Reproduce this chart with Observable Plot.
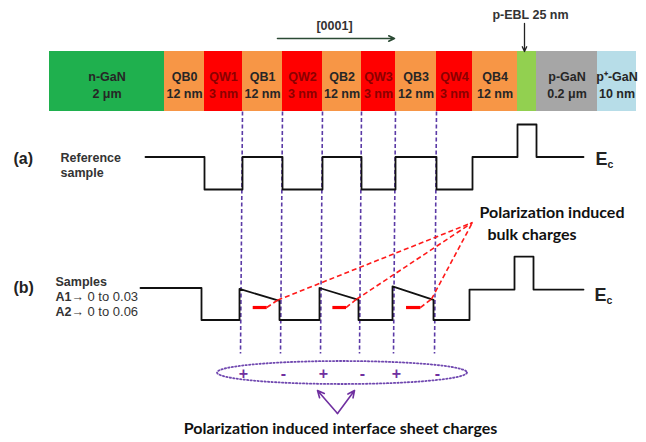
<!DOCTYPE html>
<html><head><meta charset="utf-8">
<script src="https://cdn.jsdelivr.net/npm/d3@7"></script>
<script src="https://cdn.jsdelivr.net/npm/@observablehq/plot@0.6"></script>
<style>body{margin:0;background:#fff}</style>
</head><body><div id="chart"></div>
<script>
// ---- data ----
const layerNames = ["n-GaN","QB0","QW1","QB1","QW2","QB2","QW3","QB3","QW4","QB4","p-EBL","p-GaN","p\u207A-GaN"];
const layerSizes = ["2 \u03BCm","12 nm","3 nm","12 nm","3 nm","12 nm","3 nm","12 nm","3 nm","12 nm","","0.2 \u03BCm","10 nm"];
const layerTypes = ["n","QB","QW","QB","QW","QB","QW","QB","QW","QB","EBL","p","p+"];
const layerEdges = [49,164,204,242,282,322,361,395,436,472,517,536,597,636];
// conduction band level (arbitrary units) per layer, n-GaN ... p-GaN
const ecReference   = [1,1,0,1,0,1,0,1,0,1,2,1];
const ecGradedStart = [1,1,0,0.97,0,1,0,1.05,0,0.95,1.98,0.95];
const ecGradedEnd   = [1,1,0,0.6,0,0.63,0,0.63,0,0.95,1.98,0.95];
const bulkChargeLayers = [3,5,7];
const interfaceEdges = [3,4,5,6,7,8];
const interfaceSigns = ["+","-","+","-","+","-"];
const sampleLines = [["A1\u2192","0 to 0.03"],["A2\u2192","0 to 0.06"]];

// ---- layout ----
const bar = {top: 51, bottom: 111, mid: 83.5};
const panelA = {base: 189, unit: 32.5, start: 145, end: 583, shift: 0};
const panelB = {base: 319.5, unit: 32, start: 140, end: 583, shift: -3};
const bulkApex = {x: 472, y: 222};
const ellipse = {cx: 341.5, cy: 372, rx: 125, ry: 11.5};
const vTip = {x: 337, y: 413};
const vEnds = [{x: 317, y: 390}, {x: 354, y: 390}];
const typeColors = {n:"#1fb04e", QB:"#f79646", QW:"#ff0000", EBL:"#92d050", p:"#a6a6a6", "p+":"#b7dde8"};
const purple = "#7030a0";
const sans = "'Liberation Sans', Arial, sans-serif";
const cal = "Lato, 'Open Sans', sans-serif";

const layers = layerNames.map((name,i)=>({name, size: layerSizes[i], type: layerTypes[i], x1: layerEdges[i], x2: layerEdges[i+1]}));

function band(p, Ls, Le) {
  const pts = [];
  for (let i = 0; i < Ls.length; i++) {
    const xl = i === 0 ? p.start : layerEdges[i] + p.shift;
    const xr = i === Ls.length - 1 ? p.end : layerEdges[i+1] + p.shift;
    pts.push({x: xl, y: p.base - Ls[i]*p.unit});
    pts.push({x: xr, y: p.base - Le[i]*p.unit});
  }
  return pts;
}
const bandA = band(panelA, ecReference, ecReference);
const bandB = band(panelB, ecGradedStart, ecGradedEnd);

const bulkDash = [], bulkLinks = [];
bulkChargeLayers.forEach(i => {
  const xl = layerEdges[i] + panelB.shift, w = layerEdges[i+1] - layerEdges[i];
  const y = panelB.base - 0.39*panelB.unit;
  const a = {x: xl + 0.33*w, y}, b = {x: xl + 0.68*w, y};
  bulkDash.push({x1: a.x, y1: a.y, x2: b.x, y2: b.y});
  const f = 0.95;
  const e = {x: xl + f*w, y: panelB.base - (ecGradedStart[i] + f*(ecGradedEnd[i]-ecGradedStart[i]))*panelB.unit};
  bulkLinks.push({x1: b.x, y1: b.y, x2: e.x, y2: e.y});
  bulkLinks.push({x1: e.x, y1: e.y, x2: bulkApex.x, y2: bulkApex.y});
});

const verticals = interfaceEdges.map(i => ({x1: layerEdges[i], y1: bar.bottom, x2: layerEdges[i]-2, y2: 353}));
const signs = interfaceEdges.map((i,k) => ({x: layerEdges[i] + 1, y: ellipse.cy + 1, s: interfaceSigns[k]}));
const ellipsePts = d3.range(0, 73).map(k => {
  const t = k/72*2*Math.PI;
  return {x: ellipse.cx + ellipse.rx*Math.cos(t), y: ellipse.cy + ellipse.ry*Math.sin(t)};
});

const chart = Plot.plot({
  width: 646, height: 442, margin: 0,
  x: {domain: [0, 646], range: [0, 646], axis: null},
  y: {domain: [0, 442], range: [0, 442], axis: null},
  color: {domain: Object.keys(typeColors), range: Object.values(typeColors)},
  style: {background: "#fff"},
  marks: [
    // layer stack
    Plot.rect(layers, {x1: "x1", x2: "x2", y1: bar.top, y2: bar.bottom, fill: "type"}),
    Plot.text(layers.filter(d => d.type !== "QW" && d.type !== "EBL"), {x: d => (d.x1+d.x2)/2, y: bar.mid, text: d => d.name + "\n" + d.size, fontFamily: sans, fontWeight: "bold", fontSize: 12.5, lineHeight: 1.36, fill: "#262626"}),
    Plot.text(layers.filter(d => d.type === "QW"), {x: d => (d.x1+d.x2)/2, y: bar.mid, text: d => d.name + "\n" + d.size, fontFamily: sans, fontWeight: "bold", fontSize: 12.5, lineHeight: 1.36, fill: "#8b0000"}),
    // [0001] arrow and p-EBL label
    Plot.arrow([{x1: 277, y1: 38, x2: 394, y2: 38}], {x1: "x1", y1: "y1", x2: "x2", y2: "y2", stroke: "#2b4a34", strokeWidth: 1.6, headLength: 6, headAngle: 50}),
    Plot.text([{x: 334, y: 25, t: "[0001]"}], {x: "x", y: "y", text: "t", fontFamily: sans, fontWeight: "bold", fontSize: 12.5, fill: "#333"}),
    Plot.arrow([{x1: 524, y1: 23, x2: 524, y2: 51}], {x1: "x1", y1: "y1", x2: "x2", y2: "y2", stroke: "#222", strokeWidth: 1.3, headLength: 6, headAngle: 50}),
    Plot.text([{x: 530, y: 14, t: "p-EBL 25 nm"}], {x: "x", y: "y", text: "t", fontFamily: sans, fontWeight: "bold", fontSize: 12.5, fill: "#333"}),
    // interface dashed lines
    Plot.link(verticals, {x1: "x1", y1: "y1", x2: "x2", y2: "y2", stroke: "#5b3aa6", strokeWidth: 1.6, strokeDasharray: "4,2.5"}),
    // band edges
    Plot.line(bandA, {x: "x", y: "y", stroke: "#111", strokeWidth: 1.8}),
    Plot.line(bandB, {x: "x", y: "y", stroke: "#111", strokeWidth: 1.8}),
    // bulk charges
    Plot.link(bulkLinks, {x1: "x1", y1: "y1", x2: "x2", y2: "y2", stroke: "#ff1a1a", strokeWidth: 1.6, strokeDasharray: "5,3"}),
    Plot.link(bulkDash, {x1: "x1", y1: "y1", x2: "x2", y2: "y2", stroke: "#ff0000", strokeWidth: 3.2}),
    Plot.text([{x: 479, y: 212, t: "Polarization induced"}, {x: 487, y: 234, t: "bulk charges"}], {x: "x", y: "y", text: "t", textAnchor: "start", fontFamily: cal, fontWeight: "bold", fontSize: 16, fill: "#111"}),
    // panel labels
    Plot.text([{x: 13, y: 158, t: "(a)"}, {x: 13, y: 287, t: "(b)"}], {x: "x", y: "y", text: "t", textAnchor: "start", fontFamily: sans, fontWeight: "bold", fontSize: 16, fill: "#222"}),
    Plot.text([{x: 60, y: 157, t: "Reference"}, {x: 60, y: 172, t: "sample"}, {x: 55, y: 281, t: "Samples"}], {x: "x", y: "y", text: "t", textAnchor: "start", fontFamily: sans, fontWeight: "bold", fontSize: 12.5, fill: "#333"}),
    Plot.text(sampleLines, {x: 55, y: (d,i) => 296 + 15*i, text: d => d[0], textAnchor: "start", fontFamily: sans, fontWeight: "bold", fontSize: 12.5, fill: "#333"}),
    Plot.text(sampleLines, {x: 87, y: (d,i) => 296 + 15*i, text: d => d[1], textAnchor: "start", fontFamily: sans, fontSize: 13, fill: "#333"}),
    // Ec labels
    Plot.text([{x: 595, y: 159}, {x: 594, y: 295}], {x: "x", y: "y", text: () => "E", textAnchor: "start", fontFamily: sans, fontWeight: "bold", fontSize: 18, fill: "#222"}),
    Plot.text([{x: 607, y: 164}, {x: 606, y: 300}], {x: "x", y: "y", text: () => "c", textAnchor: "start", fontFamily: sans, fontWeight: "bold", fontSize: 10.5, fill: "#222"}),
    // sheet charges
    Plot.line(ellipsePts, {x: "x", y: "y", stroke: "#7048b0", strokeWidth: 1.8, strokeDasharray: "1.3,2.2"}),
    Plot.text(signs, {x: "x", y: "y", text: "s", fontFamily: sans, fontWeight: "bold", fontSize: 16, fill: purple}),
    Plot.arrow(vEnds, {x1: vTip.x, y1: vTip.y, x2: "x", y2: "y", stroke: purple, strokeWidth: 1.6, headLength: 7, headAngle: 50}),
    Plot.text([{x: 340, y: 428, t: "Polarization induced interface sheet charges"}], {x: "x", y: "y", text: "t", fontFamily: cal, fontWeight: "bold", fontSize: 16, fill: "#111"})
  ]
});
document.getElementById("chart").appendChild(chart);
</script></body></html>
